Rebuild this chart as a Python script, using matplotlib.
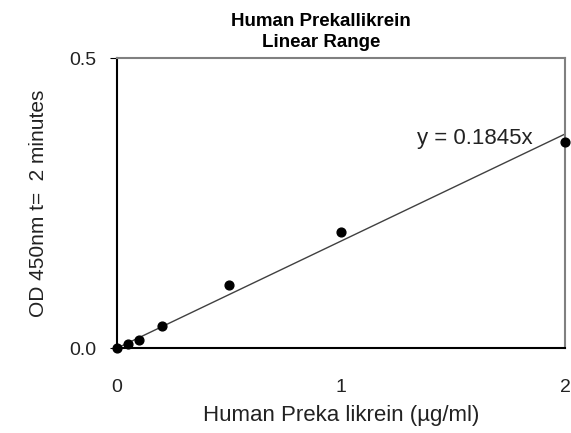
import matplotlib
matplotlib.use("Agg")
import matplotlib.pyplot as plt
import numpy as np

plt.rcParams['font.family'] = ['Liberation Sans', 'DejaVu Sans']

conc = [0, 0.05, 0.1, 0.2, 0.5, 1, 2]
od = [0.0, 0.007, 0.014, 0.038, 0.109, 0.200, 0.355]
slope = 0.1845
x_ticks = [0, 1, 2]
y_ticks = [0.0, 0.5]
y_tick_labels = ["0.0", "0.5"]

fig = plt.figure(figsize=(5.71, 4.33), dpi=100)
ax = fig.add_axes([0.205, 0.196, 0.7845, 0.670])

xf = np.array([0, 2])
ax.plot(xf, slope * xf, color='#404040', lw=1.0, zorder=2)
ax.scatter(conc, od, s=40, color='black', zorder=3, clip_on=False)

ax.set_xlim(0, 2)
ax.set_ylim(0, 0.5)
ax.set_xticks(x_ticks)
ax.set_xticklabels([str(v) for v in x_ticks])
ax.set_yticks(y_ticks)
ax.set_yticklabels(y_tick_labels)
ax.tick_params(axis='x', length=0, pad=22, labelsize=14, labelcolor='#222222')
ax.tick_params(axis='y', length=5, direction='out', pad=10, labelsize=14, labelcolor='#222222')

for s in ['top', 'right']:
    ax.spines[s].set_color('#808080')
    ax.spines[s].set_linewidth(1.5)
for s in ['left', 'bottom']:
    ax.spines[s].set_color('black')
    ax.spines[s].set_linewidth(1.5)

ax.text(1.34, 0.362, "y = 0.1845x", fontsize=16, color='#222222', ha='left', va='center')

ax.set_xlabel("Human Preka likrein (µg/ml)", fontsize=16, labelpad=7, color='#222222')
ax.set_ylabel("OD 450nm t=  2 minutes", fontsize=15, labelpad=15, color='#222222')
ax.set_title("Human Prekallikrein\nLinear Range", fontsize=13.5, fontweight='bold',
             x=0.455, pad=8, linespacing=1.3)

fig.savefig("out.png", dpi=100)
